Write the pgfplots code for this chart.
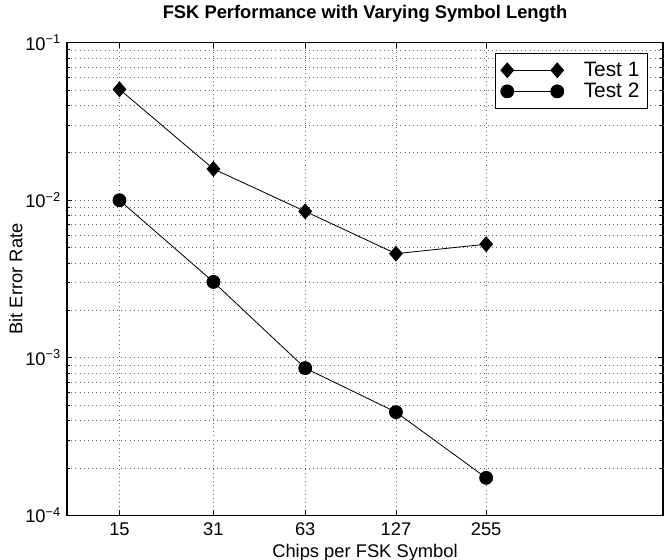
\documentclass[border=0pt]{standalone}
\usepackage{fontspec}
\setmainfont{Liberation Sans}
\usepackage{pgfplots}
\pgfplotsset{compat=1.18}
\begin{document}
\begin{tikzpicture}
\useasboundingbox (-40.2pt,-26.2pt) rectangle (358.8pt,309.2pt);
\begin{axis}[
  at={(0pt,0pt)}, anchor=south west,
  scale only axis, width=357.6pt, height=283.6pt,
  xmode=log, ymode=log,
  xmin=10, xmax=1000, ymin=1e-4, ymax=1e-1,
  xtick={15,31,63,127,255}, xticklabels={15,31,63,127,255},
  xminorticks=false,
  ytick={1e-4,1e-3,1e-2,1e-1},
  yticklabels={10\textsuperscript{−4},10\textsuperscript{−3},10\textsuperscript{−2},10\textsuperscript{−1}},
  /pgf/number format/assume math mode=true,
  tick label style={font=\fontsize{11}{13}\selectfont},
  xticklabel style={yshift=-1pt},
  xmajorgrids=true, ymajorgrids=true, yminorgrids=true,
  major grid style={black!60, line width=0.4pt, dash pattern=on 0.5pt off 2pt},
  minor grid style={black!60, line width=0.4pt, dash pattern=on 0.5pt off 2pt},
  tick align=inside, major tick length=3pt, minor tick length=2pt,
  tick style={black, line width=0.5pt},
  axis line style={line width=0.7pt},
  title={FSK Performance with Varying Symbol Length},
  title style={at={(axis description cs:0.5,1)}, anchor=base, yshift=8.5pt, font=\bfseries\fontsize{11}{13}\selectfont},
  xlabel={Chips per FSK Symbol},
  xlabel style={at={(axis description cs:0.5,0)}, anchor=base, yshift=-25pt, font=\fontsize{11}{13}\selectfont},
  ylabel={Bit Error Rate},
  every axis y label/.style={at={(axis description cs:-0.0747,0.5)}, anchor=base, rotate=90, font=\fontsize{11}{13}\selectfont},
  legend style={at={(0.975,0.978)}, anchor=north east, draw=black, line width=0.5pt,
    font=\fontsize{12.5}{12.5}\selectfont, inner xsep=3pt, inner ysep=3pt, row sep=-1.5pt},
  legend cell align=left,
  legend image code/.code={\draw[#1] plot coordinates {(0pt,0pt) (30pt,0pt)};},
]
\addplot[black, line width=0.5pt, mark=diamond*, mark size=4.4pt, mark options={solid, fill=black, xscale=1.15}]
  coordinates {(15,0.0506) (31,0.0158) (63,0.0085) (127,0.00458) (255,0.00526)};
\addlegendentry{\hspace{10pt}Test 1}
\addplot[black, line width=0.5pt, mark=*, mark size=3.9pt, mark options={solid, fill=black}]
  coordinates {(15,0.0100) (31,0.00303) (63,0.00086) (127,0.000452) (255,0.000173)};
\addlegendentry{\hspace{10pt}Test 2}
\end{axis}
\end{tikzpicture}
\end{document}
